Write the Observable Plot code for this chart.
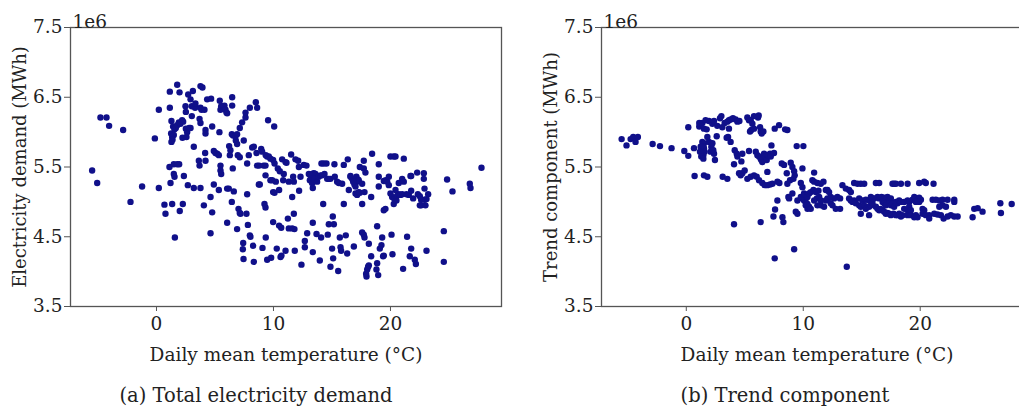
<!DOCTYPE html>
<html><head><meta charset="utf-8">
<script src="https://cdn.jsdelivr.net/npm/d3@7"></script>
<script src="https://cdn.jsdelivr.net/npm/@observablehq/plot@0.6"></script>
<style>
html,body{margin:0;padding:0;background:#fff;width:1019px;height:414px;overflow:hidden;position:relative;font-family:"DejaVu Serif",serif;}
.panel{position:absolute;top:0;width:510px;height:370px;}
.panel svg{max-width:none !important;width:510px !important;height:370px !important;}
.caption{position:absolute;top:384px;font-family:"DejaVu Serif",serif;font-size:19.5px;color:#222;white-space:nowrap;transform:translateX(-50%);}
svg [aria-label="y-axis label"] text{font-size:18px;}
</style></head><body>
<div id="a" class="panel" style="left:0px"></div>
<div id="b" class="panel" style="left:531px"></div>
<div class="caption" style="left:256px">(a) Total electricity demand</div>
<div class="caption" style="left:785px">(b) Trend component</div>
<script>
// [daily mean temperature (°C), electricity demand (×1e6 MWh)]
const totalDemand = [
[-5.50,5.45],[-5.07,5.27],[-4.79,6.21],[-4.27,6.21],[-4.05,6.09],[-2.85,6.03],[-2.22,5.00],[-1.23,5.22],[-0.14,5.91],[0.20,6.32],[0.20,5.20],[0.68,4.96],[0.77,4.83],
[1.11,5.50],[1.20,5.27],[1.14,6.58],[1.14,6.35],[1.28,6.16],[1.34,4.97],[1.57,4.49],[1.77,6.68],
[1.48,5.54],[1.77,5.54],[1.94,5.54],[1.48,5.40],[1.54,5.36],[1.99,4.87],[2.25,4.97],[2.34,5.37],
[1.42,6.08],[1.54,6.04],[1.65,6.06],[1.77,6.10],[1.91,6.14],[2.05,6.12],[2.19,6.17],[2.28,6.15],[1.25,5.98],[1.34,5.93],[1.48,5.96],[1.37,5.89],[1.28,5.86],
[1.97,6.57],[2.22,5.92],[2.48,6.37],[2.51,6.29],[2.51,6.05],[2.62,6.00],[2.56,5.93],[2.71,6.54],[2.91,6.47],[3.02,6.23],[3.02,6.37],[3.11,6.59],[2.79,6.06],[2.91,6.06],[3.19,5.79],[3.30,6.35],[3.33,6.41],[3.19,5.20],[2.68,5.24],[3.62,5.59],[3.68,5.52],[3.76,6.66],[3.93,6.64],[3.76,6.35],[3.85,6.32],[3.68,6.19],[3.76,6.13],[3.76,5.20],[4.10,6.32],[4.19,6.03],[4.19,5.98],[4.19,5.59],[4.05,4.95],[4.33,6.47],[4.67,6.48],[4.16,5.70],[4.62,4.55],[4.62,5.07],[4.76,6.08],[4.76,4.85],[4.90,5.73],[5.04,5.70],[5.19,5.69],[5.33,5.67],[4.90,5.25],[5.33,5.17],[5.38,6.00],[5.41,6.45],[5.47,6.32],[5.53,6.37],[5.47,5.52],[5.47,5.45],[5.53,5.40],[5.70,6.37],[5.81,6.38],[5.90,6.32],[5.98,6.28],[6.04,6.27],[6.04,4.70],[6.04,5.19],[6.18,5.19],[6.21,5.80],[6.32,5.74],[6.27,5.67],[6.47,6.50],[6.47,6.38],[6.44,5.97],[6.55,5.95],[6.75,5.94],[6.89,5.97],[6.52,5.48],[6.44,5.00],[6.61,5.15],[6.78,5.88],[6.89,5.83],[6.89,4.61],[6.95,5.67],[7.12,5.64],[7.01,4.90],[7.12,4.84],[7.18,4.83],[7.12,6.06],[7.32,6.14],[7.61,6.21],[7.61,6.28],[7.46,5.88],[7.38,4.32],[7.41,4.41],[7.44,4.18],[7.75,5.55],[7.75,5.11],[7.69,4.83],[7.81,4.67],[7.89,5.67],[7.98,6.35],[7.98,4.52],[8.03,4.50],[8.18,5.78],[8.32,5.79],[8.26,4.37],[8.32,4.14],[8.49,6.43],[8.60,6.35],[8.55,5.70],[8.60,5.52],[8.77,5.52],[8.75,5.25],[8.83,5.25],[8.95,5.76],[9.03,5.72],[9.06,4.34],[9.15,5.52],[9.32,5.52],[9.23,4.97],[9.32,4.92],[9.32,5.38],[9.34,4.49],[9.34,5.67],[9.46,5.65],[9.60,5.65],[9.74,5.62],[9.54,6.17],[9.46,4.17],[9.80,4.20],[9.74,5.31],[9.89,5.31],[9.97,5.60],[10.09,5.55],[10.06,6.08],[9.97,5.14],[10.09,5.13],[9.97,4.71],[10.20,5.29],[10.28,4.33],[10.37,5.48],[10.54,5.44],[10.48,5.17],[10.48,4.66],[10.60,4.21],[10.66,4.63],[10.74,5.61],[11.03,5.57],[10.68,4.23],[10.83,5.31],[10.88,5.40],[11.03,4.30],[11.11,5.56],[11.23,4.76],[11.31,5.29],[11.31,4.62],[11.60,4.62],[11.51,5.68],[11.60,5.07],[11.68,5.36],[11.74,5.29],[11.74,4.83],[11.79,4.61],[11.82,4.30],[11.88,5.61],[12.11,5.59],[12.17,5.50],[12.19,5.16],[12.31,5.36],[12.39,4.10],[12.59,5.53],[12.68,4.44],[12.68,4.35],[12.82,5.52],[12.88,4.55],[13.02,5.40],[13.16,5.38],[13.30,5.40],[13.45,5.41],[13.59,5.40],[13.11,5.31],[13.30,5.27],[13.36,4.70],[13.36,5.20],[13.36,4.28],[13.50,5.33],[13.73,5.29],[13.68,4.54],[13.87,5.36],[14.02,5.38],[13.96,4.16],[14.07,4.49],[14.10,5.55],[14.30,5.55],[14.53,5.55],[14.16,5.38],[14.36,5.40],[14.25,4.97],[14.59,5.33],[14.73,5.33],[14.87,5.33],[14.64,4.53],[14.73,4.68],[14.87,4.07],[15.01,4.33],[15.10,4.19],[15.16,4.68],[15.07,4.79],[15.21,5.54],[15.24,5.36],[15.44,5.29],[15.58,5.27],[15.53,4.01],[15.67,4.49],[15.73,4.35],[15.78,4.30],[15.87,5.26],[16.01,5.53],[16.01,4.97],[16.18,4.52],[16.30,4.26],[16.35,5.61],[16.44,5.17],[16.58,5.37],[16.58,5.36],[16.72,5.33],[16.87,5.31],[16.92,5.25],[17.01,5.29],[17.15,5.29],[17.09,5.36],[17.21,5.32],[17.29,5.31],[17.01,5.22],[16.81,5.29],[16.87,4.36],[17.01,5.12],[17.15,5.10],[17.29,5.14],[17.38,5.13],[17.38,5.50],[17.58,5.26],[17.58,4.97],[17.58,4.56],[17.72,4.53],[17.78,4.49],[17.72,5.59],[17.72,5.48],[17.86,5.42],[17.78,5.14],[18.01,4.03],[18.09,4.07],[18.15,4.09],[17.95,3.93],[17.92,3.97],[18.15,4.40],[18.35,4.22],[18.35,5.07],[18.43,5.69],[18.80,4.03],[18.86,4.12],[18.86,4.65],[18.95,3.95],[19.00,5.54],[19.00,5.36],[19.00,5.22],[19.09,4.33],[19.23,4.38],[19.29,4.49],[19.37,4.22],[19.43,4.23],[19.43,5.30],[19.60,5.31],[19.72,5.29],[19.86,5.36],[19.86,5.24],[19.43,4.88],[19.57,4.90],[20.00,5.65],[20.28,5.65],[20.43,5.65],[20.00,5.12],[20.14,5.07],[20.28,4.97],[20.34,5.04],[20.51,5.02],[20.57,5.09],[20.71,5.11],[20.85,5.10],[21.00,5.11],[20.09,4.53],[20.17,4.25],[20.43,5.17],[20.71,5.27],[21.00,5.33],[21.14,5.29],[21.08,4.04],[21.14,5.62],[21.42,4.50],[21.37,5.11],[21.57,5.10],[21.65,4.22],[21.71,5.37],[21.77,5.37],[21.77,5.16],[21.77,4.33],[21.94,5.05],[22.08,4.17],[22.17,4.11],[22.28,5.42],[22.34,5.11],[22.51,5.08],[22.51,4.95],[22.62,4.95],[22.85,5.41],[22.85,5.33],[22.91,5.03],[22.99,4.95],[22.91,5.19],[23.08,5.04],[23.22,5.11],[23.08,4.30],[22.62,5.03],[24.56,4.58],[24.56,4.14],[24.84,5.32],[25.30,5.15],[26.78,5.26],[26.84,5.20],[27.78,5.49]
];
// [daily mean temperature (°C), trend component (×1e6 MWh)]
const trendComponent = [
[-5.53,5.90],[-5.11,5.81],[-4.76,5.90],[-4.54,5.93],[-4.34,5.86],[-4.14,5.93],[-2.88,5.83],[-2.25,5.80],[-1.26,5.77],[-0.17,5.73],[0.17,6.07],[0.17,5.66],[0.71,5.37],[0.66,5.77],[1.11,6.08],[1.11,6.13],
[1.37,5.86],[1.51,5.84],[1.46,5.79],[1.51,5.77],[1.37,5.72],[1.57,5.72],[1.46,5.67],[1.23,5.79],[1.17,5.72],[1.28,5.65],
[1.37,6.13],[1.51,6.05],[1.65,6.17],[1.74,6.04],[1.46,5.62],[1.51,5.38],[1.80,5.36],
[1.80,5.93],[1.94,5.86],[2.14,5.79],[2.23,5.84],[2.08,5.72],[2.37,5.69],[2.31,5.74],
[1.94,6.16],[2.23,6.12],[2.37,6.16],[2.45,5.60],[2.60,5.94],[2.65,6.09],[2.88,6.20],[3.00,6.23],[3.08,6.07],[3.11,5.36],[3.51,5.33],
[3.28,6.13],[3.51,6.15],[3.65,6.17],[3.79,6.18],[3.99,6.20],[4.22,6.18],[4.37,6.15],[4.54,6.16],
[3.45,5.92],[3.57,5.93],[3.65,6.05],[3.79,5.86],[4.08,5.54],[4.14,5.74],[4.31,5.69],[4.37,5.65],[4.08,4.68],
[4.51,5.41],[4.65,5.38],[4.79,5.41],[4.71,5.58],[4.79,5.69],[4.99,5.45],
[5.22,6.21],[5.36,6.17],[5.51,6.17],[5.65,6.12],[5.36,5.73],
[5.22,5.33],[5.51,5.36],[5.79,5.38],[6.02,5.36],[6.22,5.31],
[5.45,6.01],[5.56,6.03],[5.79,6.05],
[5.79,6.23],[6.13,6.21],[6.19,6.24],
[5.94,5.72],[6.08,5.67],[6.22,5.65],[6.36,5.62],[6.42,5.60],[6.50,5.57],
[6.31,6.07],[6.36,6.01],[6.45,5.98],[6.59,6.01],
[6.36,4.71],
[6.50,5.27],[6.70,5.24],[6.93,5.24],[7.16,5.25],[7.36,5.26],
[6.65,5.69],[6.79,5.65],[6.88,5.60],[6.99,5.67],[7.16,5.69],[7.22,5.65],
[6.93,5.43],[7.28,5.81],[7.50,5.70],[7.56,6.05],[7.93,6.10],[7.59,4.89],[7.45,4.79],[7.56,4.19],[7.79,5.02],[7.79,5.29],[7.96,5.27],
[8.16,5.55],[8.36,5.53],[8.22,4.78],[8.30,4.71],[8.45,6.04],[8.64,6.03],[8.59,5.41],[8.64,5.26],[8.73,5.07],[8.79,5.05],[8.87,5.31],
[8.93,5.56],[9.07,5.50],[9.22,5.44],[9.27,5.38],[9.16,5.33],[9.07,5.12],[9.22,4.32],[9.36,4.86],[9.50,4.83],[9.44,5.80],[10.01,5.80],[9.50,5.02],[9.79,5.27],[9.93,5.21],[9.93,5.48],
[9.79,5.07],[9.93,5.05],[10.07,5.02],[10.21,5.00],[10.36,4.97],
[10.07,5.12],[10.21,5.10],[10.36,5.07],[10.50,5.12],[10.64,5.14],
[10.21,4.95],[10.36,4.90],[10.50,4.93],[10.64,4.90],
[10.93,5.42],[10.78,5.31],[10.93,5.29],[11.21,5.27],[11.50,5.26],[11.73,5.29],
[10.87,5.17],[11.07,5.14],[11.30,5.16],
[10.93,5.02],[11.16,5.05],[11.36,5.07],[11.50,5.02],
[11.21,4.95],[11.50,4.95],[11.78,4.93],
[11.93,5.17],[12.07,5.17],[12.21,5.14],
[11.93,5.02],[12.07,5.05],[12.35,5.07],[12.64,5.05],[12.92,5.07],[13.15,5.05],
[12.35,4.98],[12.50,4.95],[12.78,4.90],[13.15,4.90],
[13.35,5.24],[13.64,5.19],[13.72,4.07],[13.92,5.17],[14.07,5.14],
[13.92,5.05],[14.07,5.02],[14.21,5.00],[14.35,5.02],
[14.35,5.27],[14.64,5.26],[14.92,5.26],[15.21,5.26],
[14.49,4.98],[14.78,4.95],[14.92,4.93],[15.21,4.95],
[14.78,5.05],[15.06,5.02],[15.35,5.03],[15.63,5.02],[15.92,5.05],
[14.92,4.83],[15.63,4.81],
[15.35,4.90],[15.63,4.93],[15.78,4.95],[15.92,4.98],[16.21,4.93],[16.35,4.90],[16.49,4.88],[16.63,4.90],[16.78,4.88],
[15.78,5.07],[16.06,5.05],[16.35,5.07],[16.49,5.05],[16.69,5.07],[16.92,5.06],[17.06,5.05],[17.20,5.07],[17.35,5.02],[17.49,5.05],
[16.21,5.27],[16.49,5.27],
[16.78,5.00],[16.92,4.98],[17.06,4.95],[17.35,4.98],[17.49,4.95],[17.63,4.98],[17.77,4.93],[17.92,5.00],[18.06,4.98],
[16.92,4.86],[17.06,4.83],[17.20,4.84],[17.35,4.83],[17.49,4.81],[17.72,4.83],[17.92,4.81],[18.06,4.81],[18.20,4.83],[18.35,4.79],[18.49,4.81],
[17.63,5.26],[17.77,5.26],[17.92,5.26],[18.35,5.26],[18.92,5.26],
[18.20,5.02],[18.35,5.00],[18.63,5.00],[18.92,5.02],[19.06,5.00],
[18.63,4.90],[18.92,4.88],[19.06,4.93],[19.20,4.88],
[18.92,4.81],[19.20,4.81],[19.49,4.78],[19.63,4.81],[19.77,4.78],
[19.34,5.03],[19.49,5.07],[19.63,5.05],[19.77,5.02],[19.91,5.06],[20.06,5.03],[19.91,5.00],[19.63,5.00],
[19.91,5.27],[20.34,5.29],[20.48,5.27],
[20.20,4.90],[20.34,4.88],
[20.20,4.83],[20.48,4.81],[20.77,4.81],[20.77,4.76],
[21.14,5.26],
[21.06,5.03],[21.34,5.03],[21.63,5.02],[21.91,5.03],[22.34,5.03],[22.91,5.03],
[21.20,4.83],[21.48,4.82],[21.77,4.81],[22.00,4.76],[22.34,4.79],[22.62,4.81],[22.91,4.79],[23.20,4.79],
[21.63,4.93],[21.91,4.95],[22.20,4.93],
[22.91,5.00],
[24.48,4.78],[24.62,4.90],[24.91,4.91],[25.33,4.86],[26.85,4.98],[26.90,4.84],[27.82,4.97]
];
const yTicks = [3.5, 4.5, 5.5, 6.5, 7.5];
const xTicks = [0, 10, 20];
const xLabel = "Daily mean temperature (°C)";
const yLabelA = "Electricity demand (MWh)";
const yLabelB = "Trend component (MWh)";
const offsetLabel = "1e6";

function panel(data, yLabel, xDomain) {
  return Plot.plot({
    width: 510, height: 370,
    marginLeft: 70, marginRight: 9, marginTop: 27, marginBottom: 64,
    style: {fontFamily: '"DejaVu Serif", serif', fontSize: "18.5px", color: "#222", background: "white", overflow: "visible"},
    x: {domain: xDomain},
    y: {domain: [3.5, 7.5]},
    marks: [
      Plot.dot(data, {x: d => d[0], y: d => d[1], r: 3.2, fill: "#10108a", stroke: "none"}),
      Plot.frame({stroke: "#555", strokeWidth: 1.3}),
      Plot.axisY({ticks: yTicks, tickFormat: d3.format(".1f"), tickSize: 6, tickPadding: 2, stroke: "#555",
        label: yLabel, labelAnchor: "center", labelOffset: 57, labelArrow: "none"}),
      Plot.axisX({ticks: xTicks, tickFormat: d3.format("d"), tickSize: 5, tickPadding: 5, stroke: "#555",
        label: xLabel, labelAnchor: "center", labelOffset: 54, labelArrow: "none"}),
      Plot.text([offsetLabel], {text: d => d, frameAnchor: "top-left", textAnchor: "start", lineAnchor: "bottom", dx: 2, dy: 0})
    ]
  });
}
document.getElementById("a").append(panel(totalDemand, yLabelA, [-7.35, 29.49]));
document.getElementById("b").append(panel(trendComponent, yLabelB, [-7.25, 29.6]));
</script>
</body></html>
